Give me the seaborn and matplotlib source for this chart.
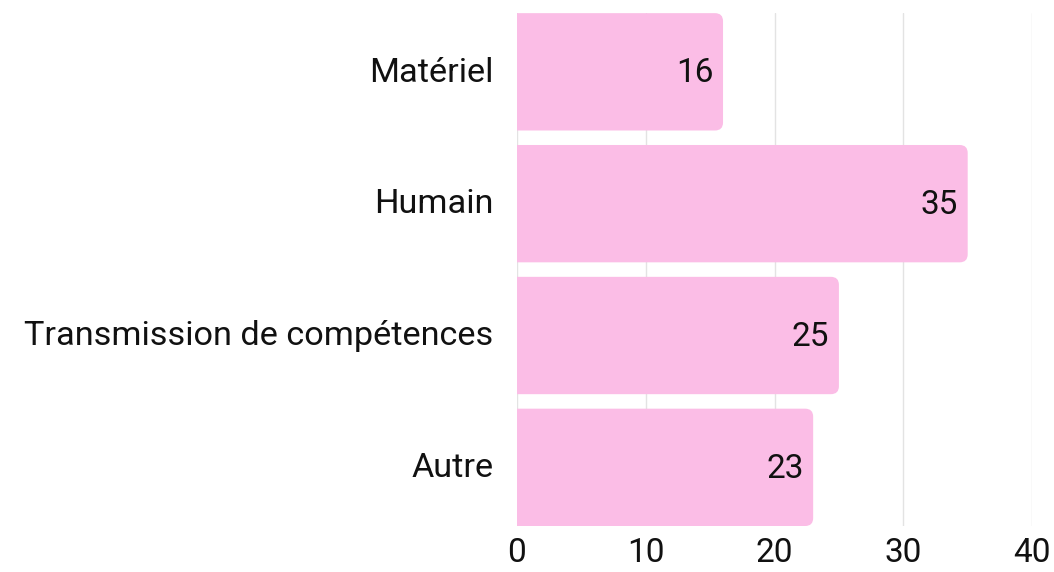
import matplotlib
matplotlib.use("Agg")
import matplotlib.pyplot as plt
from matplotlib.patches import FancyBboxPatch
from matplotlib.transforms import ScaledTranslation
import seaborn as sns
import pandas as pd

categories = ["Matériel", "Humain", "Transmission de compétences", "Autre"]
values = [16, 35, 25, 23]
xticks = [0, 10, 20, 30, 40]

sns.set_style("white")
plt.rcParams['font.family'] = ['Roboto', 'DejaVu Sans']

df = pd.DataFrame({"cat": categories, "n": values})
color = "#fbbde6"

fig = plt.figure(figsize=(10.54, 5.72), dpi=100)
ax = fig.add_axes([0.4905, 0.0804, 0.9792 - 0.4905, 0.977 - 0.0804])

sns.barplot(data=df, x="n", y="cat", color=color, width=0.89,
            saturation=1, ax=ax, zorder=2)

ax.set_xlim(0, 40)
ax.set_ylim(3.5 - 0.055, -0.5 + 0.055)

# swap plain bars for ones with rounded ends
bbox = ax.get_position()
px_x = bbox.width * fig.get_figwidth() * fig.dpi / 40
px_y = bbox.height * fig.get_figheight() * fig.dpi / (4 - 0.11)
radius = 8
for p in list(ax.patches):
    x0, y0 = p.get_x(), p.get_y()
    w, h = p.get_width(), p.get_height()
    p.remove()
    fb = FancyBboxPatch((x0 - 2, y0), w + 2, h,
                        boxstyle=f"round,pad=0,rounding_size={radius / px_x}",
                        mutation_aspect=px_x / px_y,
                        facecolor=color, edgecolor="none", zorder=2)
    ax.add_patch(fb)
    ax.annotate(str(int(w)), (x0 + w, y0 + h / 2), xytext=(-7, -1),
                textcoords="offset points", ha="right", va="center",
                fontsize=24, color="#111111", zorder=3)

ax.set_xticks(xticks)
ax.grid(axis="x", color="#e3e3e3", linewidth=1, zorder=0)
ax.set_axisbelow(True)
for s in ax.spines.values():
    s.set_visible(False)
ax.tick_params(axis="x", length=0, pad=8, labelsize=24, labelcolor="#111111")
ax.tick_params(axis="y", length=0, pad=17, labelsize=24.7, labelcolor="#111111")
shift = ScaledTranslation(0, 2 / 72, fig.dpi_scale_trans)
for t in ax.get_yticklabels():
    t.set_va("center_baseline")
    t.set_transform(t.get_transform() + shift)
ax.set_xlabel("")
ax.set_ylabel("")

fig.savefig("out.png", dpi=100)
